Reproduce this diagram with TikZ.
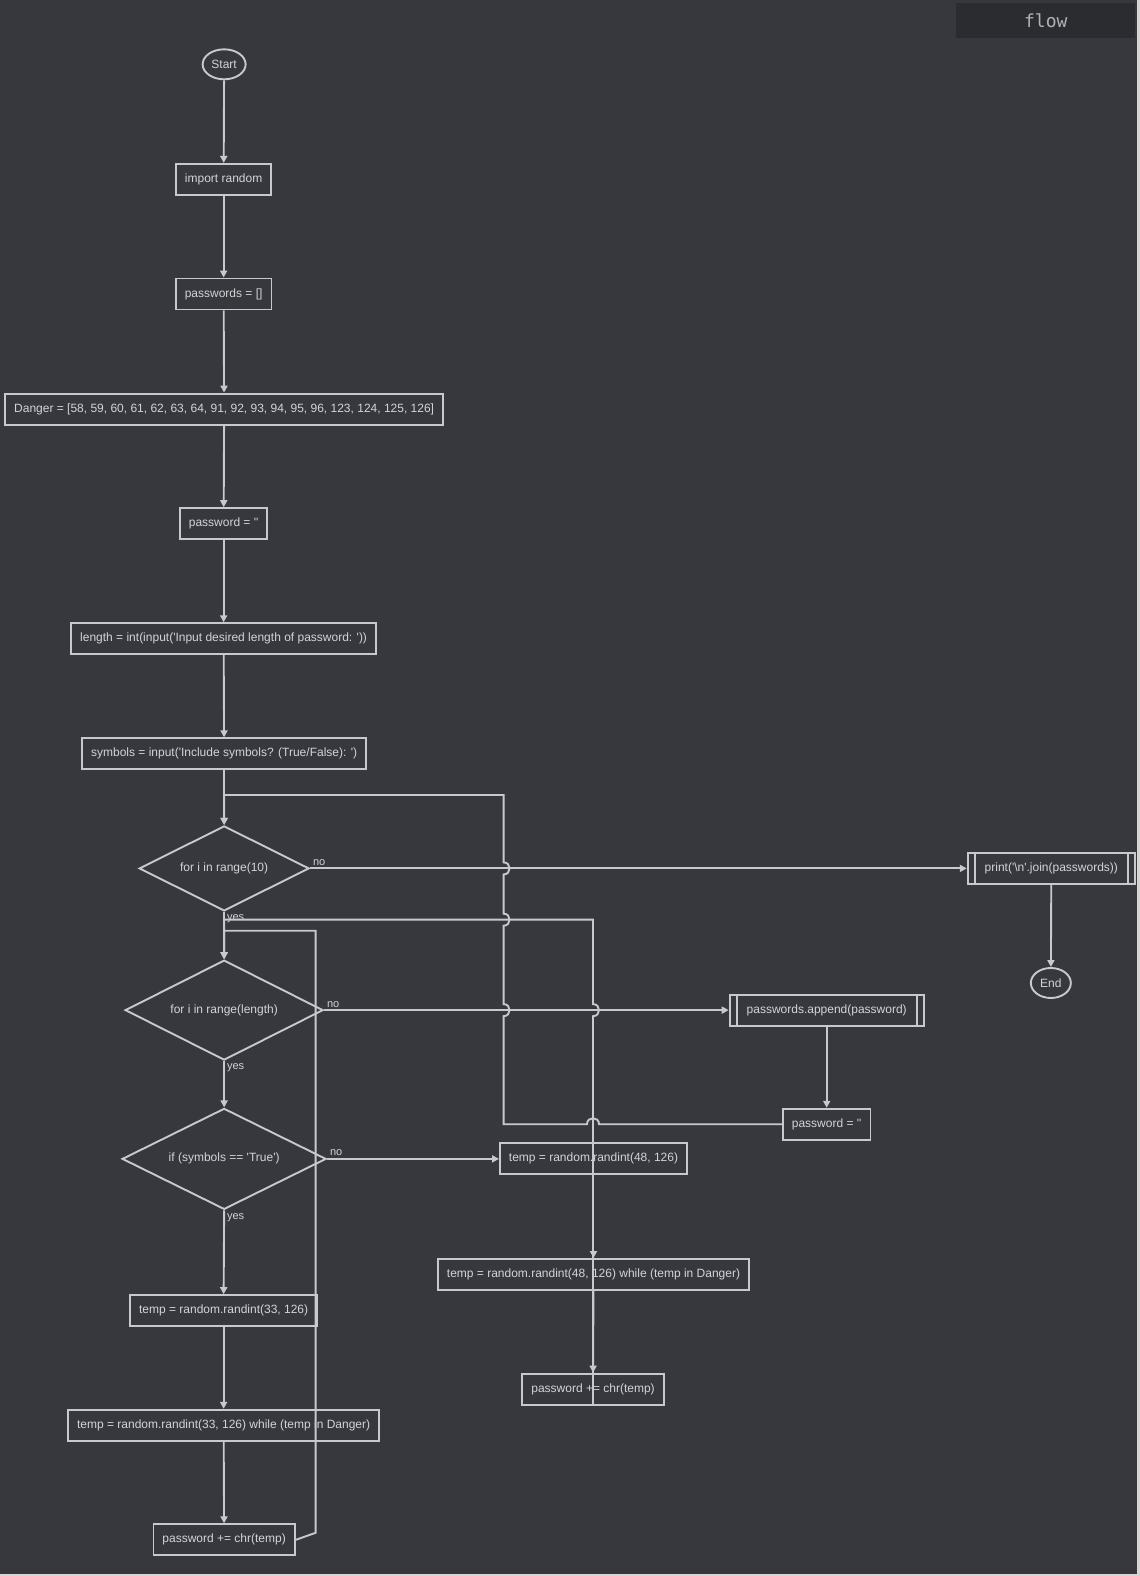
\documentclass[tikz,border=0pt]{standalone}
\usepackage{fontspec}
\setmainfont{Liberation Sans}[Ligatures=TeXOff]
\newfontfamily\flowmono{DejaVu Sans Mono}
\usetikzlibrary{arrows.meta,positioning,shapes.geometric}
\definecolor{slatebg}{RGB}{54,56,61}
\definecolor{edgegray}{RGB}{200,201,205}
\definecolor{labelgray}{RGB}{212,212,214}
\definecolor{titlebg}{RGB}{43,44,48}
\definecolor{titlegray}{RGB}{178,178,180}
\definecolor{framegray}{RGB}{214,214,214}
\tikzset{
  proc/.style={
    draw=edgegray,
    line width=1.9pt,
    text=labelgray,
    minimum height=31pt,
    inner xsep=9pt,
    font=\fontsize{12}{14}\selectfont
  },
  subr/.style={
    proc,
    inner xsep=17pt
  },
  term/.style={
    ellipse,
    draw=edgegray,
    line width=1.9pt,
    text=labelgray,
    minimum height=30pt,
    inner sep=0pt,
    font=\fontsize{12}{14}\selectfont
  },
  decide/.style={
    diamond,
    shape aspect=2,
    draw=edgegray,
    line width=1.9pt,
    text=labelgray,
    inner sep=0pt,
    font=\fontsize{12}{14}\selectfont
  },
  lbl/.style={
    text=labelgray,
    inner sep=2pt,
    font=\fontsize{11}{13}\selectfont
  },
  titlebox/.style={
    fill=titlebg,
    text=titlegray,
    minimum width=179pt,
    minimum height=35pt,
    font=\flowmono\fontsize{18}{20}\selectfont
  },
  line/.style={
    draw=edgegray,
    line width=1.9pt
  },
  arrow/.style={
    -{Triangle[length=7pt,width=7pt]},
    line
  }
}

\begin{document}
\begin{tikzpicture}[x=1.0053pt,y=-1.0053pt]
\fill[framegray] (0,0) rectangle (1134,1568);
\fill[slatebg] (0,0) rectangle (1131.5,1566);
\useasboundingbox (0,0) rectangle (1134,1568);

\node[titlebox] (ttl) at (1040.5,20.5) {flow};

% main column
\node[term, minimum width=43pt] (start) at (223,64) {Start};
\node[proc] (imp) at (222.5,178.5) {import random};
\node[proc] (pwl) at (222.5,292.5) {passwords = []};
\node[proc] (dng) at (223,407) {Danger = [58, 59, 60, 61, 62, 63, 64, 91, 92, 93, 94, 95, 96, 123, 124, 125, 126]};
\node[proc] (pw1) at (222.5,521) {password = ''};
\node[proc] (len) at (222.5,635.5) {length = int(input('Input desired length of password: '))};
\node[proc] (sym) at (223,750) {symbols = input('Include symbols? (True/False): ')};
\node[decide, minimum width=170pt, minimum height=85pt] (f10) at (223,864) {for i in range(10)};
\node[decide, minimum width=198pt, minimum height=100pt] (flen) at (223,1005) {for i in range(length)};
\node[decide, minimum width=204pt, minimum height=101pt] (sif) at (223,1153) {if (symbols == 'True')};
\node[proc] (t33) at (222.5,1304) {temp = random.randint(33, 126)};
\node[proc] (w33) at (222.5,1418) {temp = random.randint(33, 126) while (temp in Danger)};
\node[proc] (prl) at (223,1532) {password += chr(temp)};

% no symbols branch
\node[proc] (t48) at (590.5,1153) {temp = random.randint(48, 126)};
\node[proc] (w48) at (590.5,1268) {temp = random.randint(48, 126) while (temp in Danger)};
\node[proc] (prr) at (590,1382) {password += chr(temp)};

% right side
\node[subr] (app) at (822.5,1005) {passwords.append(password)};
\node[proc] (pw2) at (822.5,1118.5) {password = ''};
\node[subr] (prt) at (1046,864) {print('\textbackslash n'.join(passwords))};
\node[term, minimum width=40pt] (end) at (1045.5,978) {End};

\draw[line] ([xshift=8pt]app.north west) -- ([xshift=8pt]app.south west);
\draw[line] ([xshift=-8pt]app.north east) -- ([xshift=-8pt]app.south east);
\draw[line] ([xshift=8pt]prt.north west) -- ([xshift=8pt]prt.south west);
\draw[line] ([xshift=-8pt]prt.north east) -- ([xshift=-8pt]prt.south east);

\draw[arrow] (start) -- (imp);
\draw[arrow] (imp) -- (pwl);
\draw[arrow] (pwl) -- (dng);
\draw[arrow] (dng) -- (pw1);
\draw[arrow] (pw1) -- (len);
\draw[arrow] (len) -- (sym);
\draw[arrow] (sym) -- (f10);

\draw[arrow] (f10.east) node[lbl, anchor=south west] (no1) {no} -- (prt.west);
\draw[arrow] (prt) -- (end);
\draw[arrow] (f10.south) node[lbl, anchor=north west] (yes1) {yes} -- (flen.north);
\draw[arrow] (flen.east) node[lbl, anchor=south west] (no2) {no} -- (app.west);
\draw[arrow] (app) -- (pw2);
\draw[arrow] (flen.south) node[lbl, anchor=north west] (yes2) {yes} -- (sif.north);
\draw[arrow] (sif.east) node[lbl, anchor=south west] (no3) {no} -- (t48.west);
\draw[arrow] (sif.south) node[lbl, anchor=north west] (yes3) {yes} -- (t33.north);
\draw[arrow] (t33) -- (w33);
\draw[arrow] (w33) -- (prl);
\draw[arrow] (t48) -- (w48);
\draw[arrow] (w48) -- (prr);

% loops back
\coordinate (outerturn) at (501,791);
\coordinate (rightturn) at (590,915);
\coordinate (leftturn) at (314,926);
\coordinate (leftfoot) at (314,1525);

\draw[arrow] (pw2.west) -- (596,1118.5) .. controls +(0,-8) and +(0,-8) .. (584,1118.5)
  -- (outerturn |- pw2.west) -- (501,1011) .. controls +(8,0) and +(8,0) .. (501,999)
  -- (501,921) .. controls +(8,0) and +(8,0) .. (501,909)
  -- (501,870) .. controls +(8,0) and +(8,0) .. (501,858)
  -- (outerturn) -- (f10.north |- outerturn) -- (f10.north);
\draw[arrow] (prr.south) -- (590,1011) .. controls +(8,0) and +(8,0) .. (590,999)
  -- (rightturn) -- (flen.north |- rightturn) -- (flen.north);
\draw[arrow] (prl.east) -- (leftfoot) -- (leftturn) -- (flen.north |- leftturn) -- (flen.north);
\end{tikzpicture}
\end{document}
